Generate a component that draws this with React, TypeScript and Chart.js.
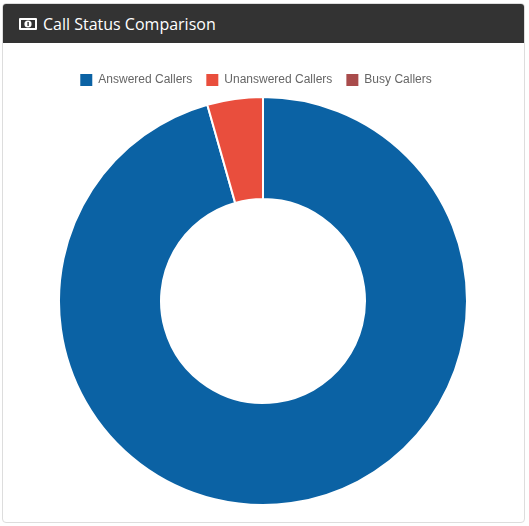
import React, { useEffect, useRef } from "react";
import { Chart, registerables } from "chart.js";

Chart.register(...registerables);

const title = "Call Status Comparison";
const categories = ["Answered Callers", "Unanswered Callers", "Busy Callers"];
const callCounts = [95.6, 4.4, 0];
const colors = ["#0b62a4", "#e94e3d", "#a94c4c"];

const legendNudge = {
  id: "legendNudge",
  afterLayout(chart: any) {
    chart.legend.left -= 7;
    chart.legend.right -= 7;
  },
};

export default function App() {
  const ref = useRef<HTMLCanvasElement | null>(null);
  useEffect(() => {
    document.body.style.margin = "0";
    const chart = new Chart(ref.current!, {
      type: "doughnut",
      data: {
        labels: categories,
        datasets: [{ data: callCounts, backgroundColor: colors, borderColor: "#fff", borderWidth: 2, hoverOffset: 0 }],
      },
      options: {
        responsive: false,
        animation: false,
        cutout: "50%",
        layout: { padding: { top: -1, left: 0, right: 0, bottom: 0 } },
        plugins: {
          legend: {
            position: "top",
            labels: {
              boxWidth: 12,
              boxHeight: 12,
              padding: 14,
              color: "#666",
              font: { family: "Liberation Sans", size: 12 },
              generateLabels: (c: any) =>
                (Chart as any).overrides.doughnut.plugins.legend.labels
                  .generateLabels(c)
                  .map((l: any) => ({ ...l, lineWidth: 0, strokeStyle: "transparent" })),
            },
          },
          tooltip: { enabled: false },
        },
      },
      plugins: [legendNudge],
    } as any);
    return () => chart.destroy();
  }, []);
  return (
    <div style={{ position: "relative", width: 529, height: 526, background: "#fff", overflow: "hidden" }}>
      <div
        style={{
          position: "absolute", left: 2, top: 3, width: 521, height: 518,
          border: "1px solid #ddd", borderRadius: 4, boxSizing: "content-box",
        }}
      />
      <div
        style={{
          position: "absolute", left: 3, top: 4, width: 521, height: 39, background: "#333",
          borderRadius: "3px 3px 0 0", color: "#fff", display: "flex", alignItems: "center",
          fontFamily: "'Open Sans', sans-serif", fontSize: 16, lineHeight: "39px",
        }}
      >
        <svg width="18" height="12" viewBox="0 0 18 12" style={{ marginLeft: 16, marginRight: 6 }}>
          <rect x="0" y="0" width="18" height="12" rx="1" fill="#fff" />
          <rect x="2" y="2" width="14" height="8" fill="#333" />
          <circle cx="9" cy="6" r="3.6" fill="#fff" />
          <rect x="8.4" y="4" width="1.4" height="4" fill="#333" />
        </svg>
        <span style={{ position: "relative", top: 1 }}>{title}</span>
      </div>
      <canvas ref={ref} width={520} height={445} style={{ position: "absolute", left: 3, top: 61, display: "block" }} />
    </div>
  );
}
